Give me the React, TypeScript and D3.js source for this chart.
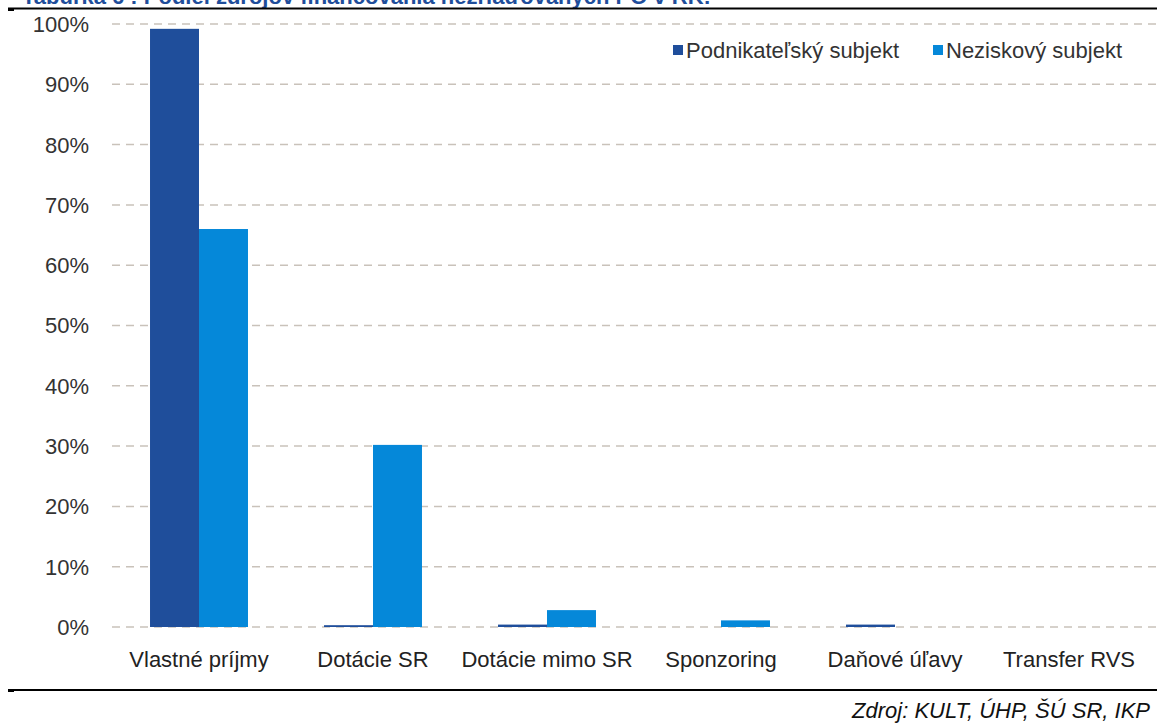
import React from 'react';
import * as d3 from 'd3';

const categories = ['Vlastné príjmy', 'Dotácie SR', 'Dotácie mimo SR', 'Sponzoring', 'Daňové úľavy', 'Transfer RVS'];
const seriesNames = ['Podnikateľský subjekt', 'Neziskový subjekt'];
const podnikatelsky = [0.992, 0.003, 0.004, 0, 0.004, 0];
const neziskovy = [0.66, 0.302, 0.028, 0.011, 0, 0];
const yTicks = [0, 0.1, 0.2, 0.3, 0.4, 0.5, 0.6, 0.7, 0.8, 0.9, 1];
const colors = ['#1F4E9B', '#0588D9'];

const W = 1157;
const H = 725;
const font = "'Liberation Sans', Arial, sans-serif";

const App = () => {
  const x = d3.scaleBand<string>().domain(categories).range([112, 1156]).paddingInner(0.437).paddingOuter(0.437 / 2);
  const x1 = d3.scaleBand<string>().domain(seriesNames).range([0, x.bandwidth()]);
  const y = d3.scaleLinear().domain([0, 1]).range([627, 24]);
  const series = [podnikatelsky, neziskovy];

  return (
    <svg width={W} height={H} style={{ position: 'absolute', left: 0, top: 0, background: '#fff' }}>
      <text x={22} y={4} fontFamily={font} fontWeight="bold" fontSize={22} fill="#1F4E9B">
        Tabuľka 6 : Podiel zdrojov financovania nezriaďovaných PO v RK:
      </text>
      <line x1={8} x2={W} y1={8.5} y2={8.5} stroke="#000" strokeWidth={2} />
      <rect x={8} y={8} width={6} height={3} fill="#000" />

      {yTicks.map(t => (
        <g key={t}>
          <line x1={112} x2={W} y1={y(t)} y2={y(t)} stroke="#C9C2BA" strokeWidth={1.5} strokeDasharray="8 6" />
          <text x={89} y={y(t)} dy="0.36em" textAnchor="end" fontFamily={font} fontSize={22} fill="#333">
            {d3.format('.0%')(t)}
          </text>
        </g>
      ))}

      {categories.map((c, i) => (
        <g key={c} transform={`translate(${x(c)},0)`}>
          {series.map((s, j) => (
            s[i] > 0 ? (
              <rect key={j} x={x1(seriesNames[j])} y={y(s[i])} width={x1.bandwidth()} height={y(0) - y(s[i])} fill={colors[j]} />
            ) : null
          ))}
          <text x={x.bandwidth() / 2} y={667} textAnchor="middle" fontFamily={font} fontSize={22} fill="#222">{c}</text>
        </g>
      ))}

      <g fontFamily={font} fontSize={22} fill="#333">
        <rect x={673} y={45} width={10} height={10} fill={colors[0]} />
        <text x={686} y={58}>{seriesNames[0]}</text>
        <rect x={933} y={45} width={10} height={10} fill={colors[1]} />
        <text x={946} y={58}>{seriesNames[1]}</text>
      </g>

      <line x1={8} x2={W} y1={690} y2={690} stroke="#000" strokeWidth={2} />
      <rect x={8} y={689} width={6} height={3} fill="#000" />
      <text x={1150} y={718} textAnchor="end" fontFamily={font} fontStyle="italic" fontSize={22} fill="#111">
        Zdroj: KULT, ÚHP, ŠÚ SR, IKP
      </text>
    </svg>
  );
};

export default App;
